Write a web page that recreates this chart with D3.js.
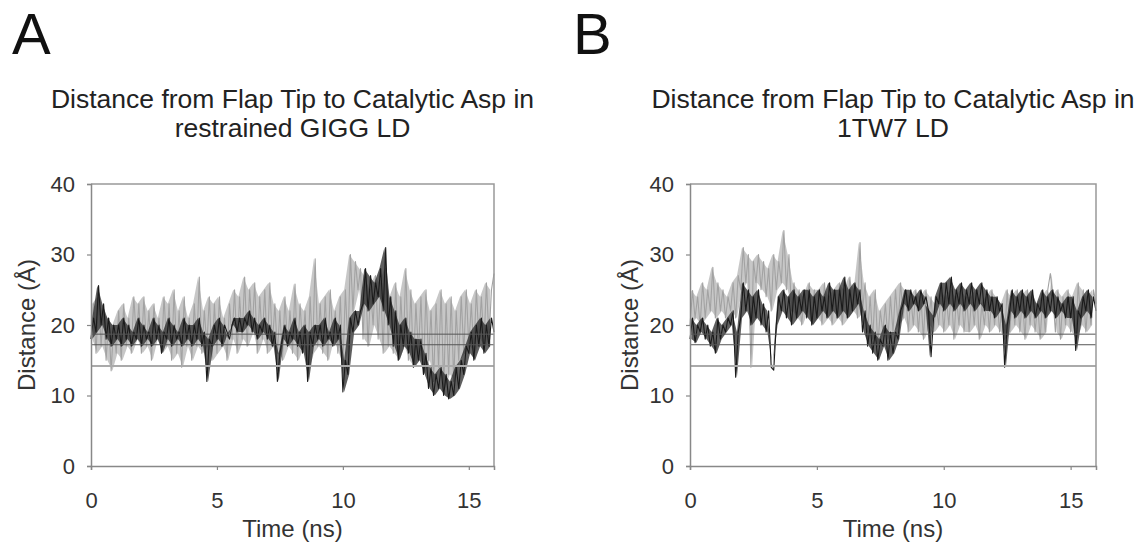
<!DOCTYPE html>
<html>
<head>
<meta charset="utf-8">
<script src="https://cdn.jsdelivr.net/npm/d3@7"></script>
<style>
  body { margin: 0; background: #fff; }
  text { font-family: "Liberation Sans", Arial, sans-serif; }
</style>
</head>
<body>
<div id="chart"></div>
<script>
const timeStep = 0.1;

const aGray = [
  18,23,16,24,17,22,15,21,13.5,20,
  16,22,15,23,17,21,16,24,18,23,
  16,24,17,22,15,23,18,21,16,24,
  17,23,15,25,16,22,14,24,17,21,
  15,23,17,26.8,16,22,17,24,15,23,
  16,24,17,21,15,23,18,25,16,24,
  18,26.8,17,25,19,26,16,24,18,25,
  16,26,17,23,16,22,15,24,17,22,
  16,25.8,15,23,17,22,13.6,24,16,29.4,
  17,23,16,24,15,25,18,22,16,24,
  14,25,17,30,22,29,25,28,18,27,
  17,25,20,27,18,26,16,28,17,24,
  16,26,15,24,17,28,15,25,14,23,
  16,24,13,25,15,22,12,23,14,25,
  11,23,13,24,12,22,15,24,16,25,
  17,23,16,25,18,24,17,26,18,25,
  27.3
];

const aBlack = [
  18,21,19,25.6,20,23,18,21,17,20,
  18,20,17,21,18,20,17,19,18,21,
  17,20,18,19,17,21,18,20,16,19,
  18,21,17,20,18,19,17,21,18,20,
  17,20,18,21,17,19,12,18,17,20,
  18,21,17,20,19,18,20,21,19,21,
  19,21,20,22,19,21,18,20,19,21,
  18,20,17,19,12,16,18,20,17,19,
  18,21,17,19,16,20,12,19,17,20,
  18,20,17,21,18,19,17,21,18,20,
  10.5,15,13,21,19,22,20,22,23,28,
  22,27,23,26,24,28,22,31,20,24,
  17,22,15,20,17,21,16,19,14,18,
  15,18,13,16,11,14,10,13,11,14,
  10,13,9.5,12,10,14,11,15,13,17,
  16,19,15,20,17,21,16,20,17,21,
  19
];

const bGray = [
  20,24.9,21,24,20,26,21,25,22,28.2,
  21,26,22,25,21,24,22,26,21,27,
  25,31,26,30,14,29,26,30,25,29,
  24,28,22,30,25,29,26,33.4,25,30,
  22,26,21,25,20,24,22,26,20,25,
  21,25,20,26,21,24,20,25,21,26,
  20,25,21,26.8,22,25,21,31.7,22,26,
  19,24,18,25,17,22,19,23,18,24,
  19,25,20,26,21,25,19,24,20,25,
  19,24,18,25,20,24,19,23,20,25,
  19,24,20,25,18,24,20,25,19,24,
  19,24,20,25,18,23,20,24,19,25,
  20,24,19,23,18,25,19,24,20,25,
  19,24,18,25,20,24,19,23,18,24,
  19,25,27.3,24,19,25,18,24,20,25,
  19,24,18,26,20,25,19,24,20,25,
  23
];

const bBlack = [
  18,21,17.5,20,19,21,18,20,17,19,
  16,21,18,20,19,21,20,22,12.6,19,
  21,26,22,25,20,24,21,25,20,23,
  19,22,14,13.6,20,24,22,25,21,24,
  20,25,21,24,22,25,21,25,20,24,
  21,25,22,24,21,26,22,25,21,25,
  22,26.8,21,25,22,26,23,25,19,22,
  17,20,16,19,15,18,17,20,15,19,
  16,19,18,22,23,25,22,25,23,24,
  22,25,23,24,22,15.5,21,24,23,26,
  22,26,23,26.8,22,25,23,26,22,25,
  23,26,22,25,23,26,22,25,22,24,
  21,24,22,23,14,20,22,25,21,24,
  22,25,21,24,22,25,21,23,22,25,
  21,24,22,25,21,24,22,23,21,24,
  21,24,16.4,22,21,24,22,25,21,24,
  22
];

// horizontal reference levels (Å)
const refDark = [18.7, 17.2];
const refLight = [14.2];

const xTicks = [0, 5, 10, 15];
const yTicks = [0, 10, 20, 30, 40];
const xDomain = [0, 16];
const yDomain = [0, 40];

const panels = [
  { letter: "A", title: ["Distance from Flap Tip to Catalytic Asp in", "restrained GIGG LD"],
    gray: aGray, black: aBlack, left: 91, right: 494, letterX: 12, ylabX: 35 },
  { letter: "B", title: ["Distance from Flap Tip to Catalytic Asp in", "1TW7 LD"],
    gray: bGray, black: bBlack, left: 690, right: 1096, letterX: 573, ylabX: 638 }
];

const W = 1138, H = 545;
const plotTop = 184, plotBottom = 466;

const svg = d3.select("#chart").append("svg")
  .attr("width", W).attr("height", H);

// consecutive low/high samples -> band segments
const toPairs = arr => d3.range(Math.floor(arr.length / 2)).map(k => ({
  t: (2 * k + 0.5) * timeStep, lo: arr[2 * k], hi: arr[2 * k + 1]
}));

panels.forEach(p => {
  const x = d3.scaleLinear().domain(xDomain).range([p.left, p.right]);
  const y = d3.scaleLinear().domain(yDomain).range([plotBottom, plotTop]);
  const g = svg.append("g");
  const cx = (p.left + p.right) / 2;

  // panel letter
  g.append("text")
    .attr("x", p.letterX).attr("y", 54)
    .attr("font-size", 58).attr("fill", "#111")
    .text(p.letter);

  // title
  g.append("text")
    .attr("text-anchor", "middle").attr("font-size", 26.5).attr("fill", "#222")
    .selectAll("tspan").data(p.title).join("tspan")
    .attr("x", cx).attr("y", (d, i) => 108 + i * 29)
    .text(d => d);

  // traces: a band between local lows and highs, with the raw zigzag on top
  const line = d3.line()
    .x((d, i) => x(i * timeStep))
    .y(d => y(d));
  const band = d3.area()
    .x(d => x(d.t))
    .y0(d => y(d.lo))
    .y1(d => y(d.hi));

  g.append("path").datum(toPairs(p.gray))
    .attr("d", band).attr("fill", "#b4b4b4").attr("fill-opacity", 0.75);
  g.append("path").datum(p.gray)
    .attr("d", line).attr("fill", "none")
    .attr("stroke", "#a2a2a2").attr("stroke-width", 1.1)
    .attr("stroke-linejoin", "round");

  g.append("path").datum(toPairs(p.black))
    .attr("d", band).attr("fill", "#2a2a2a").attr("fill-opacity", 0.75);
  g.append("path").datum(p.black)
    .attr("d", line).attr("fill", "none")
    .attr("stroke", "#1a1a1a").attr("stroke-width", 1.1)
    .attr("stroke-linejoin", "round");

  // reference lines
  g.selectAll(".refd").data(refDark).join("line")
    .attr("x1", x(xDomain[0])).attr("x2", x(xDomain[1]))
    .attr("y1", d => y(d)).attr("y2", d => y(d))
    .attr("stroke", "#555").attr("stroke-width", 1);

  g.selectAll(".refl").data(refLight).join("line")
    .attr("x1", x(xDomain[0])).attr("x2", x(xDomain[1]))
    .attr("y1", d => y(d)).attr("y2", d => y(d))
    .attr("stroke", "#aaa").attr("stroke-width", 2);

  // box top/right
  g.append("path")
    .attr("d", `M${x(xDomain[0])},${y(yDomain[1])}H${x(xDomain[1])}V${y(yDomain[0])}`)
    .attr("fill", "none").attr("stroke", "#999").attr("stroke-width", 1.5);

  // axes
  const xAxis = g.append("g")
    .attr("transform", `translate(0,${plotBottom})`)
    .call(d3.axisBottom(x).tickValues(xTicks).tickSize(4).tickPadding(22).tickFormat(d3.format("d")));
  const yAxis = g.append("g")
    .attr("transform", `translate(${p.left},0)`)
    .call(d3.axisLeft(y).tickValues(yTicks).tickSize(4).tickPadding(12).tickFormat(d3.format("d")));

  [xAxis, yAxis].forEach(a => {
    a.select(".domain").attr("stroke", "#888").attr("stroke-width", 1.5);
    a.selectAll(".tick line").attr("stroke", "#888").attr("stroke-width", 1.2);
    a.selectAll(".tick text")
      .attr("fill", "#333").attr("font-size", 22)
      .attr("font-family", "'Liberation Sans', Arial, sans-serif");
  });

  // axis titles
  g.append("text")
    .attr("x", cx).attr("y", 537)
    .attr("text-anchor", "middle").attr("font-size", 24).attr("fill", "#333")
    .text("Time (ns)");

  g.append("text")
    .attr("transform", `translate(${p.ylabX},${(plotTop + plotBottom) / 2}) rotate(-90)`)
    .attr("text-anchor", "middle").attr("font-size", 24).attr("fill", "#333")
    .text("Distance (Å)");
});
</script>
</body>
</html>
